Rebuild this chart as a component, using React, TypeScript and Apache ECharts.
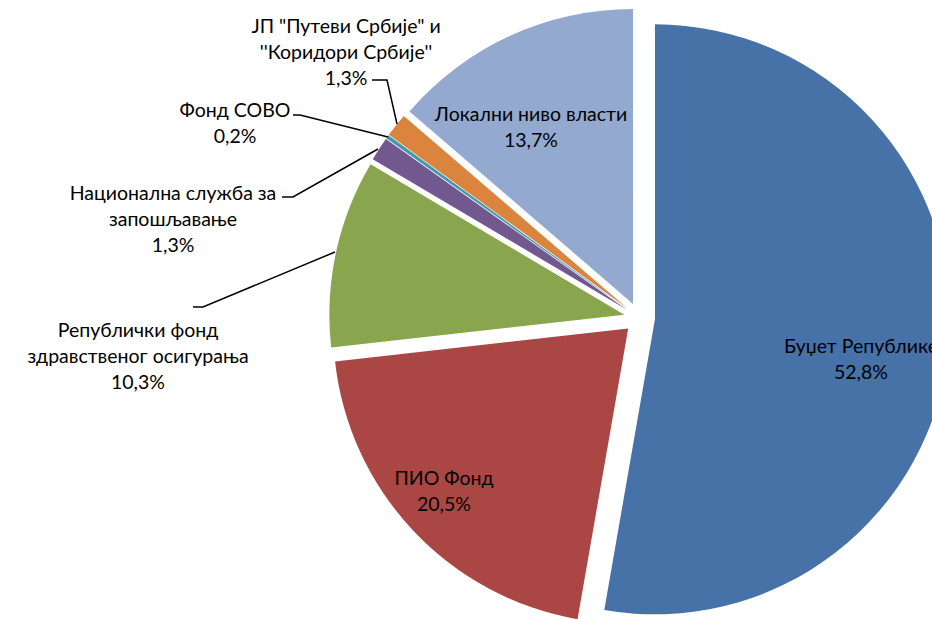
import React, { useEffect, useRef } from "react";
import * as echarts from "echarts";

// ---- data ----
const categories = [
  "Буџет Републике",
  "ПИО Фонд",
  "Републички фонд здравственог осигурања",
  "Национална служба за запошљавање",
  "Фонд СОВО",
  "ЈП \"Путеви Србије\" и ''Коридори Србије''",
  "Локални ниво власти",
];
const labelNames = [
  "Буџет Републике",
  "ПИО Фонд",
  "Републички фонд\nздравственог осигурања",
  "Национална служба за\nзапошљавање",
  "Фонд СОВО",
  "ЈП \"Путеви Србије\" и\n''Коридори Србије''",
  "Локални ниво власти",
];
const values = [52.8, 20.5, 10.3, 1.3, 0.2, 1.3, 13.7];

// ---- styles / layout ----
const colors = ["#4672A8", "#AA4644", "#89A54E", "#71588F", "#4198AF", "#DB843D", "#93A9CF"];
const insideLabel = [true, true, false, false, false, false, true];
const labelPos: { x: number; y: number; line?: number[][] }[] = [
  { x: 861, y: 358 },
  { x: 444, y: 490 },
  { x: 138, y: 355, line: [[335, 252], [203, 307], [193, 307]] },
  { x: 173, y: 218, line: [[378, 149], [293, 197], [282, 197]] },
  { x: 235, y: 122, line: [[388, 137], [300, 115], [293, 115]] },
  { x: 346, y: 51, line: [[397, 124], [387, 80], [372, 80]] },
  { x: 531, y: 126 },
];
const FONT = "Lato, 'Noto Sans', sans-serif";
const CENTER = [639.5, 318];
const RADIUS = [0, 295];

export default function App() {
  const ref = useRef<HTMLDivElement>(null);
  useEffect(() => {
    const chart = echarts.init(ref.current!, null, { renderer: "svg" });
    chart.setOption({
      animation: false,
      backgroundColor: "#ffffff",
      series: [
        {
          // exploded slices
          type: "pie",
          center: CENTER,
          radius: RADIUS,
          startAngle: 90,
          clockwise: true,
          selectedMode: "multiple",
          selectedOffset: 15.5,
          silent: true,
          itemStyle: { borderWidth: 0 },
          label: { show: false },
          labelLine: { show: false },
          data: categories.map((name, i) => ({
            name,
            value: values[i],
            selected: true,
            itemStyle: { color: colors[i] },
          })),
        },
        {
          // labels (transparent sectors)
          type: "pie",
          center: CENTER,
          radius: RADIUS,
          startAngle: 90,
          clockwise: true,
          silent: true,
          z: 5,
          avoidLabelOverlap: false,
          itemStyle: { color: "rgba(0,0,0,0)", borderWidth: 0 },
          label: {
            fontFamily: FONT,
            fontSize: 19.5,
            lineHeight: 26,
            color: "#000000",
            align: "center",
            formatter: (p: any) =>
              labelNames[p.dataIndex] + "\n" + Number(p.value).toFixed(1).replace(".", ",") + "%",
          },
          labelLine: { lineStyle: { color: "#000000", width: 1.5 } },
          labelLayout: (params: any) => {
            const p = labelPos[params.dataIndex];
            const res: any = { x: p.x, y: p.y, align: "center", verticalAlign: "middle" };
            if (p.line) res.labelLinePoints = p.line;
            return res;
          },
          data: categories.map((name, i) => ({
            name,
            value: values[i],
            label: { position: insideLabel[i] ? "inside" : "outside" },
            labelLine: { show: !insideLabel[i] },
          })),
        },
      ],
    });
    return () => chart.dispose();
  }, []);
  return (
    <div
      ref={ref}
      style={{ position: "fixed", left: 0, top: 0, width: 932, height: 619, background: "#fff" }}
    />
  );
}
